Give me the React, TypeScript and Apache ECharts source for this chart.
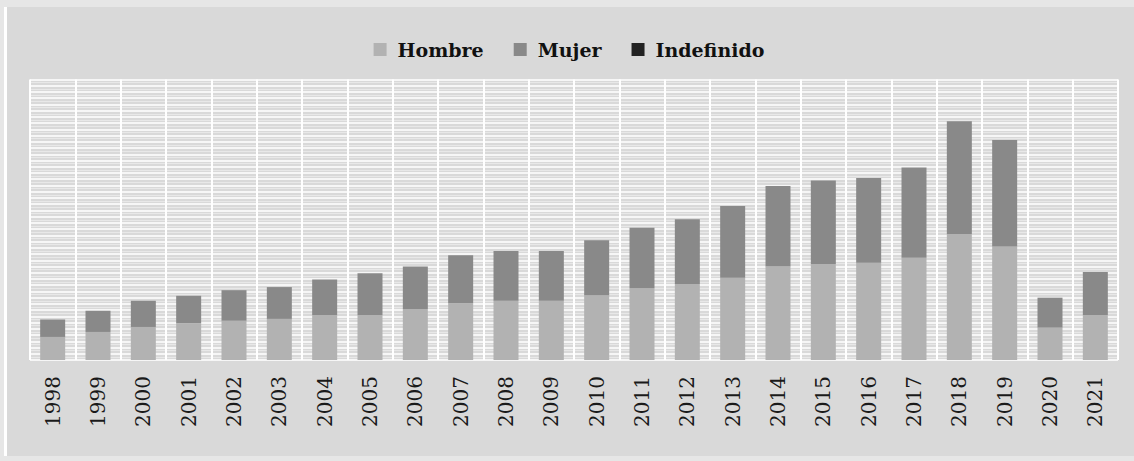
import React, { useEffect, useRef } from "react";
import * as echarts from "echarts";

const years = ["1998","1999","2000","2001","2002","2003","2004","2005","2006","2007","2008","2009","2010","2011","2012","2013","2014","2015","2016","2017","2018","2019","2020","2021"];
const hombre = [37,45,53,59,63,66,72,72,82,91,95,95,104,115,122,132,150,154,156,164,202,182,52,72];
const mujer = [28,34,42,44,49,51,57,67,68,77,80,80,88,97,104,115,129,134,136,145,181,171,48,69];
const indefinido = [0,0,0,0,0,0,0,0,0,0,0,0,0,0,0,0,0,0,0,0,0,0,0,0];

export default function App() {
  const ref = useRef<HTMLDivElement>(null);
  useEffect(() => {
    if (!ref.current) return;
    const chart = echarts.init(ref.current, null, { renderer: "svg" });
    const serif = "DejaVu Serif";
    chart.setOption({
      animation: false,
      backgroundColor: "transparent",
      legend: {
        top: 35,
        left: "center",
        itemWidth: 13,
        itemHeight: 13,
        itemGap: 30,
        icon: "rect",
        textStyle: { fontFamily: serif, fontWeight: "bold", fontSize: 19, color: "#111", padding: [0, 0, 0, 6] },
        data: ["Hombre", "Mujer", "Indefinido"],
      },
      grid: { left: 26, right: 16, top: 79.5, bottom: 101, containLabel: false },
      xAxis: {
        type: "category",
        data: years,
        axisLine: { show: false },
        axisTick: { show: false },
        axisLabel: { rotate: 90, margin: 16, fontFamily: serif, fontSize: 20, color: "#1a1a1a" },
        splitLine: { show: true, lineStyle: { color: "#ffffff", width: 2 } },
      },
      yAxis: {
        type: "value",
        min: 0,
        max: 450,
        interval: 10,
        axisLine: { show: false },
        axisTick: { show: false },
        axisLabel: { show: false },
        splitLine: { show: true, lineStyle: { color: "#ffffff", width: 1.5 } },
        minorTick: { show: false, splitNumber: 2 },
        minorSplitLine: { show: true, lineStyle: { color: "#e8e8e8", width: 1 } },
      },
      series: [
        { name: "Hombre", type: "bar", stack: "t", data: hombre, barWidth: 25, itemStyle: { color: "#b2b2b2" } },
        { name: "Mujer", type: "bar", stack: "t", data: mujer, barWidth: 25, itemStyle: { color: "#898989" } },
        { name: "Indefinido", type: "bar", stack: "t", data: indefinido, barWidth: 25, itemStyle: { color: "#222222" } },
      ],
    });
    return () => chart.dispose();
  }, []);
  return (
    <div style={{ position: "absolute", left: 0, top: 0, width: 1134, height: 461, background: "#e6e6e6" }}>
      <div style={{ position: "absolute", left: 4, top: 7, width: 1130, height: 449, background: "#d9d9d9", borderLeft: "3px solid #ffffff", boxSizing: "border-box" }} />
      <div ref={ref} style={{ position: "absolute", left: 4, top: 0, width: 1130, height: 461 }} />
    </div>
  );
}
